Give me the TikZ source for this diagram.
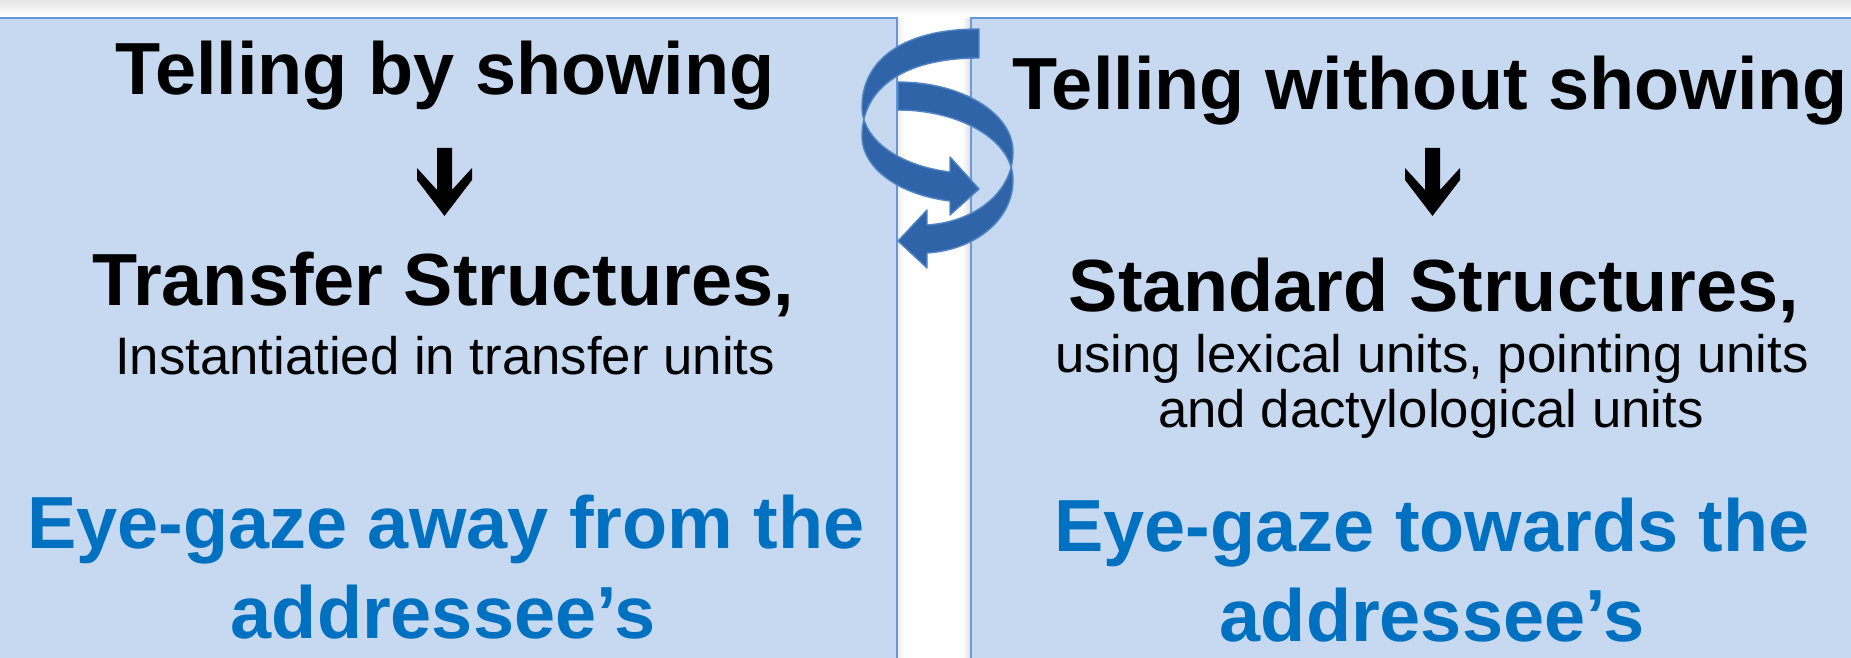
\documentclass[tikz,border=0pt]{standalone}
\usepackage{fontspec}
\setmainfont{Liberation Sans}
\definecolor{boxfill}{RGB}{198,217,240}
\definecolor{boxline}{RGB}{100,150,218}
\definecolor{gazeblue}{RGB}{0,112,192}
\definecolor{ribbon}{RGB}{47,101,168}
\definecolor{ribbonedge}{RGB}{80,132,196}
\begin{document}
\begin{tikzpicture}[x=0.01cm,y=-0.01cm,
  panel/.style={fill=boxfill,draw=boxline,line width=0.57pt},
  bigtext/.style={anchor=base,inner sep=0pt,font=\fontsize{21}{25}\selectfont\bfseries},
  smalltext/.style={anchor=base,inner sep=0pt,font=\fontsize{15}{16}\selectfont},
  gazetext/.style={bigtext,text=gazeblue},
  ribbonshape/.style={fill=ribbon,draw=ribbonedge,line width=0.4pt,line join=round},
  downglyph/.style={fill=black}]
\useasboundingbox (0,0) rectangle (1851,658);
\clip (0,0) rectangle (1851,658);
% top shadow strip
\shade[top color=black!10,bottom color=white] (0,0) rectangle (1851,16);
% panels
\draw[panel] (-5,18) rectangle (897,700);
\draw[panel] (971,18) rectangle (1900,700);
% faint gap shadows
\shade[left color=white,right color=black!12] (962,19) rectangle (970,658);
\shade[left color=black!6,right color=white] (898,19) rectangle (905,658);
% left column
\node[bigtext] (t1) at (445,95) {Telling by showing};
\fill[downglyph] (437,148) -- (452,148) -- (452,190) -- (472,168) -- (472,180) -- (444.5,216) -- (417,180) -- (417,168) -- (437,190) -- cycle;
\node[bigtext] (s1) at (443,306) {Transfer Structures,};
\node[smalltext] (d1) at (445,375) {Instantiatied in transfer units};
\node[gazetext] (g1a) at (446,549) {Eye-gaze away from the};
\node[gazetext] (g1b) at (443,638) {addressee’s};
% right column
\node[bigtext] (t2) at (1430,110) {Telling without showing};
\fill[downglyph,shift={(988,0)}] (437,148) -- (452,148) -- (452,190) -- (472,168) -- (472,180) -- (444.5,216) -- (417,180) -- (417,168) -- (437,190) -- cycle;
\node[bigtext] (s2) at (1434,312) {Standard Structures,};
\node[smalltext] (d2a) at (1432,373) {using lexical units, pointing units};
\node[smalltext] (d2b) at (1431,428) {and dactylological units};
\node[gazetext] (g2a) at (1432,552) {Eye-gaze towards the};
\node[gazetext] (g2b) at (1432,642) {addressee’s};
% circular arrows (back ribbon first)
\filldraw[ribbonshape] (898,82) .. controls (960,82) and (1013,112) .. (1013,152)
  .. controls (1013,192) and (975,222) .. (927,225) -- (927,210) -- (898,241) -- (927,268) -- (927,253)
  .. controls (975,250) and (1013,220) .. (1013,180)
  .. controls (1013,140) and (960,110) .. (898,110) -- cycle;
\filldraw[ribbonshape] (979,29) .. controls (900,29) and (862,62) .. (862,107)
  .. controls (862,140) and (900,166) .. (950,172) -- (950,157) -- (979,189) -- (950,215) -- (950,201)
  .. controls (900,195) and (862,169) .. (862,136)
  .. controls (862,91) and (900,58) .. (979,58) -- cycle;
\end{tikzpicture}
\end{document}
